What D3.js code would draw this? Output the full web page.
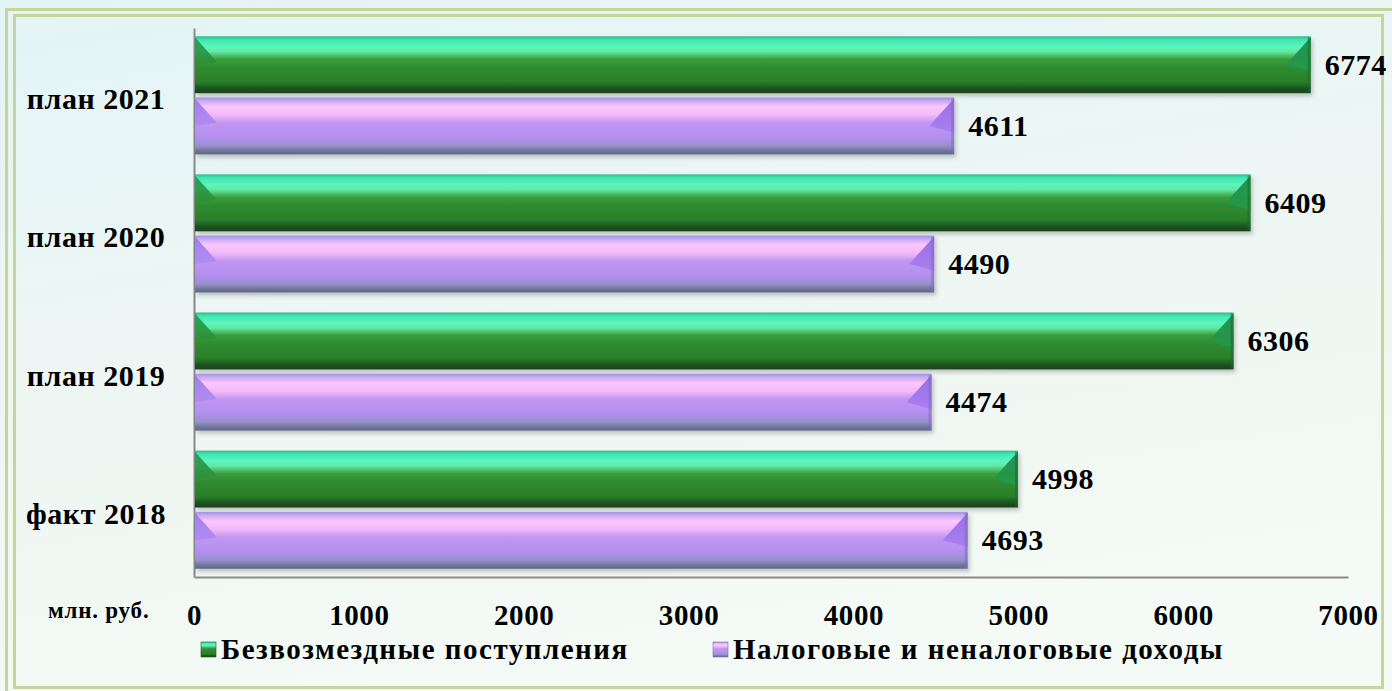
<!DOCTYPE html>
<html>
<head>
<meta charset="utf-8">
<script src="https://cdn.jsdelivr.net/npm/d3@7"></script>
<style>
  html, body { margin: 0; padding: 0; background: #eef7f6; }
  svg { display: block; }
  svg text { font-family: "Liberation Serif", Tinos, "Times New Roman", "DejaVu Serif", serif !important; font-weight: bold; fill: #000; }
</style>
</head>
<body>
<div class="chart-container"></div>
<script>
"use strict";

// data
let categories = ["план 2021", "план 2020", "план 2019", "факт 2018"];
let seriesNames = ["Безвозмездные поступления", "Налоговые и неналоговые доходы"];
let grants = [6774, 6409, 6306, 4998];       // зелёные
let taxIncome = [4611, 4490, 4474, 4693];    // фиолетовые
let tickValues = [0, 1000, 2000, 3000, 4000, 5000, 6000, 7000];
let unitLabel = "млн. руб.";

let width = 1392, height = 691;
let margin = { top: 28, right: 44, bottom: 114, left: 194 };

let svg = d3.select('.chart-container').append('svg')
  .attr('width', width)
  .attr('height', height);

let defs = svg.append('defs');

// background
let bg = defs.append('linearGradient').attr('id', 'bg')
  .attr('x1', 0).attr('y1', 0).attr('x2', 0.3).attr('y2', 1);
bg.append('stop').attr('offset', '0%').attr('stop-color', '#e3f4f7');
bg.append('stop').attr('offset', '55%').attr('stop-color', '#eef6f3');
bg.append('stop').attr('offset', '100%').attr('stop-color', '#f4faf5');

// bar gradients
function barGradient(id, stops) {
  let g = defs.append('linearGradient').attr('id', id)
    .attr('x1', 0).attr('y1', 0).attr('x2', 0).attr('y2', 1);
  stops.forEach(function (s) {
    g.append('stop').attr('offset', s[0]).attr('stop-color', s[1]);
  });
}
barGradient('gGreen', [
  ['0%', '#2fb98c'], ['6%', '#3ee8b0'], ['18%', '#5cf5bd'], ['27%', '#63e8a4'],
  ['40%', '#3a9e3e'], ['55%', '#2f8b2f'], ['80%', '#2a802b'], ['91%', '#1c561d'], ['100%', '#1a3f1c']
]);
barGradient('gPurple', [
  ['0%', '#9f92db'], ['6%', '#c6a8f4'], ['16%', '#fcc6fc'], ['30%', '#f3bafa'],
  ['45%', '#c196f2'], ['70%', '#b38ff0'], ['85%', '#9790cc'], ['94%', '#6f7597'], ['100%', '#5f6587']
]);
barGradient('gGreenEnd', [['0%', '#1f8c4e'], ['100%', '#249a48']]);
barGradient('gPurpleEnd', [['0%', '#9468e6'], ['100%', '#a97ff0']]);
barGradient('gGreenLeft', [['0%', '#1f9a50'], ['100%', '#2f8f34']]);
barGradient('gPurpleLeft', [['0%', '#9277ee'], ['100%', '#b08af0']]);

let barColors = ['url(#gGreen)', 'url(#gPurple)'];
let endColors = ['url(#gGreenEnd)', 'url(#gPurpleEnd)'];
let leftColors = ['url(#gGreenLeft)', 'url(#gPurpleLeft)'];
let edgeColors = ['#1e6a2c', '#7a6cc0'];

let shadow = defs.append('filter').attr('id', 'shadow')
  .attr('x', '-5%').attr('y', '-20%').attr('width', '110%').attr('height', '150%');
shadow.append('feDropShadow').attr('dx', 2).attr('dy', 3).attr('stdDeviation', 2)
  .attr('flood-color', '#000').attr('flood-opacity', 0.22);

svg.append('rect').attr('width', width).attr('height', height).attr('fill', 'url(#bg)');

// double frame
svg.append('path')
  .attr('d', 'M6.5,' + (height + 5) + 'V9.5H' + (width + 5))
  .attr('fill', 'none').attr('stroke', '#c5d69a').attr('stroke-width', 3);
svg.append('rect')
  .attr('x', 14.5).attr('y', 15.5).attr('width', width - 24).attr('height', height - 19)
  .attr('fill', 'none').attr('stroke', '#c5d69a').attr('stroke-width', 3);

// scales
let x = d3.scaleLinear().domain([0, 7000]).range([margin.left, width - margin.right]);
let y = d3.scaleBand().domain(categories)
  .range([margin.top, height - margin.bottom])
  .paddingInner(0.145).paddingOuter(0.06);
let ySub = d3.scaleBand().domain([0, 1]).range([0, y.bandwidth()]).paddingInner(0.07);

// axes
let axisX = d3.axisBottom(x).tickValues(tickValues).tickSize(0).tickPadding(27)
  .tickFormat(d3.format('d'));
let gx = svg.append('g')
  .attr('transform', 'translate(0,' + (height - margin.bottom) + ')')
  .call(axisX);
gx.attr('font-family', null).attr('font-size', null);
gx.select('.domain').attr('stroke', '#8a8a8a').attr('stroke-width', 2);
gx.selectAll('text')
  .style('font-size', '29px')
  .style('letter-spacing', '0.6px')
  .attr('fill', '#000');

let axisY = d3.axisLeft(y).tickSize(0).tickFormat('');
let gy = svg.append('g')
  .attr('transform', 'translate(' + margin.left + ',0)')
  .call(axisY);
gy.select('.domain').attr('stroke', '#8a8a8a').attr('stroke-width', 2);

// category labels
svg.selectAll('text.cat')
  .data(categories)
  .enter().append('text')
  .attr('class', 'cat')
  .attr('x', 96)
  .attr('y', function (d) { return y(d) + y.bandwidth() / 2 + 14; })
  .attr('text-anchor', 'middle')
  .style('font-size', '30px')
  .style('letter-spacing', '0.5px')
  .text(function (d) { return d; });

// bars
let rows = [];
categories.forEach(function (c, i) {
  rows.push({ cat: c, s: 0, v: grants[i] });
  rows.push({ cat: c, s: 1, v: taxIncome[i] });
});

let bars = svg.selectAll('g.bar')
  .data(rows)
  .enter().append('g')
  .attr('class', 'bar')
  .attr('transform', function (d) { return 'translate(0,' + (y(d.cat) + ySub(d.s)) + ')'; });

let bh = ySub.bandwidth();
let x0 = x(0) + 1;

bars.append('rect')
  .attr('x', x0)
  .attr('y', 0)
  .attr('width', function (d) { return x(d.v) - x0; })
  .attr('height', bh)
  .attr('fill', function (d) { return barColors[d.s]; })
  .attr('filter', 'url(#shadow)');

// left bevel face
bars.append('path')
  .attr('d', 'M' + x0 + ',1L' + (x0 + 22) + ',' + (bh * 0.45) + 'L' + x0 + ',' + (bh * 0.5) + 'Z')
  .attr('fill', function (d) { return leftColors[d.s]; })
  .attr('opacity', 0.9);

// right bevel face
bars.append('path')
  .attr('d', function (d) {
    let x1 = x(d.v);
    return 'M' + x1 + ',1L' + (x1 - 25) + ',' + (bh * 0.5) + 'L' + x1 + ',' + (bh * 0.62) + 'Z';
  })
  .attr('fill', function (d) { return endColors[d.s]; })
  .attr('opacity', 0.95);

// right edge
bars.append('rect')
  .attr('x', function (d) { return x(d.v) - 3; })
  .attr('y', 1)
  .attr('width', 3)
  .attr('height', bh - 2)
  .attr('fill', function (d) { return edgeColors[d.s]; })
  .attr('opacity', 0.55);

// value labels
bars.append('text')
  .attr('x', function (d) { return x(d.v) + 14; })
  .attr('y', bh / 2 + 10)
  .style('font-size', '30px')
  .style('letter-spacing', '0.5px')
  .text(function (d) { return d.v; });

// unit label
svg.append('text')
  .attr('x', 48).attr('y', 618)
  .style('font-size', '23px')
  .style('letter-spacing', '0.8px')
  .text(unitLabel);

// legend
let legendX = [201, 713];
let legendIcon = ['url(#gGreen)', 'url(#gPurple)'];
let lg = svg.selectAll('g.legend')
  .data(seriesNames)
  .enter().append('g')
  .attr('class', 'legend')
  .attr('transform', function (d, i) { return 'translate(' + legendX[i] + ',642)'; });
lg.append('rect')
  .attr('width', 15).attr('height', 15)
  .attr('fill', function (d, i) { return legendIcon[i]; })
  .attr('stroke', function (d, i) { return i ? '#7b73b0' : '#1f5a2a'; })
  .attr('stroke-width', 0.6);
lg.append('text')
  .attr('x', 20).attr('y', 17)
  .style('font-size', '29px')
  .style('letter-spacing', '1.5px')
  .text(function (d) { return d; });
</script>
</body>
</html>
